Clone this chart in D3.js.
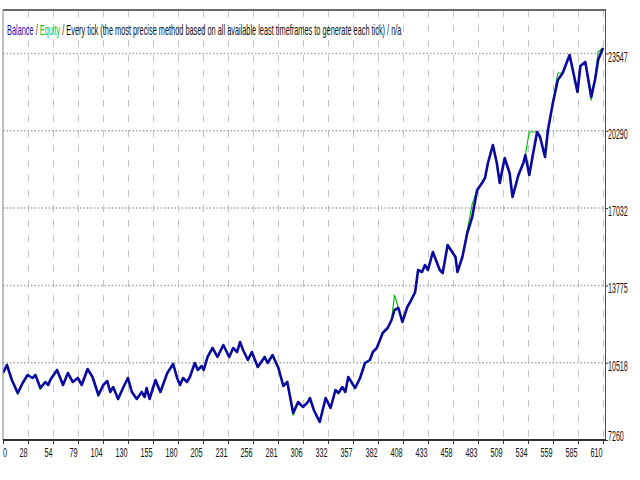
<!DOCTYPE html>
<html>
<head>
<meta charset="utf-8">
<script src="https://cdn.jsdelivr.net/npm/d3@7"></script>
<style>
	body { margin: 0; background: #fff; }
	svg { display: block; }
</style>
</head>
<body>
<svg id="chart" width="640" height="480"></svg>
<script>
// trade number for each sampled point
const trade_idx = [0, 4, 9, 15, 20, 25, 30, 33, 38, 43, 46, 48, 55, 61, 66, 71, 76, 80, 86, 91,
	97, 102, 106, 109, 112, 117, 122, 127, 131, 136, 141, 144, 146, 149, 155, 160, 167, 173, 177, 180,
	183, 187, 190, 195, 198, 202, 204, 208, 213, 218, 224, 230, 234, 238, 241, 244, 249, 253, 259, 266,
	269, 274, 280, 285, 289, 295, 300, 305, 310, 312, 316, 322, 328, 333, 338, 341, 345, 348, 351, 358,
	363, 368, 373, 376, 380, 386, 391, 395, 398, 402, 406, 411, 414, 419, 422, 426, 429, 432, 437, 444,
	447, 452, 460, 462, 467, 472, 477, 482, 487, 490, 493, 498, 502, 505, 510, 515, 518, 524, 529, 531,
	535, 539, 543, 546, 551, 554, 559, 564, 569, 576, 584, 587, 592, 598, 602, 605, 610]

const balance = [10083, 10421, 9788, 9241, 9662, 9999, 9873, 9999, 9451, 9704, 9578, 9788, 10210, 9578, 10083, 9704, 9873, 9578, 10252, 9915,
	9156, 9578, 9746, 9283, 9493, 8988, 9451, 9873, 9283, 8988, 9283, 9072, 9451, 8988, 9788, 9283, 10083, 10463, 9873, 9578,
	9873, 9704, 9915, 10505, 10210, 10378, 10210, 10758, 11137, 10758, 11263, 10758, 11137, 10968, 11390, 11053, 10631, 10968, 10336, 10758,
	10505, 10842, 10294, 9536, 9704, 8398, 8861, 8651, 8861, 9030, 8524, 8019, 9030, 8608, 9367, 9241, 9493, 9283, 9915, 9451,
	9873, 10505, 10631, 10968, 11137, 11769, 11980, 12317, 12738, 12822, 12233, 12865, 13075, 13497, 14424, 14340, 14635, 14424, 15182, 14424,
	14297, 15477, 14972, 14340, 14972, 15983, 16657, 17795, 18090, 18301, 18933, 19691, 18933, 18090, 19143, 18511, 17500, 18427, 18933, 19270,
	18427, 19354, 20239, 20028, 19186, 20323, 21461, 22430, 22725, 23484, 21925, 23020, 23189, 21714, 22473, 23273, 23779]

const equity = [10083, 10421, 9788, 9180, 9662, 9999, 9873, 9999, 9400, 9704, 9578, 9788, 10210, 9578, 10083, 9704, 9873, 9578, 10252, 9915,
	9100, 9578, 9746, 9283, 9493, 8988, 9451, 9873, 9283, 8988, 9283, 9072, 9451, 8988, 9788, 9283, 10083, 10463, 9873, 9578,
	9873, 9704, 9915, 10505, 10210, 10378, 10210, 10758, 11137, 10758, 11263, 10758, 11137, 10968, 11390, 11053, 10631, 10968, 10336, 10758,
	10505, 10842, 10294, 9536, 9704, 8300, 8861, 8651, 8861, 9030, 8524, 8019, 9030, 8608, 9367, 9241, 9493, 9283, 9915, 9451,
	9873, 10505, 10631, 10968, 11137, 11769, 11980, 12317, 13370, 12822, 12233, 12865, 13075, 13497, 14424, 14340, 14635, 14424, 15182, 14424,
	14297, 15477, 14972, 14340, 14972, 16100, 17200, 17795, 18090, 18301, 18933, 19691, 18933, 18090, 19143, 18511, 17500, 18427, 18933, 19270,
	20239, 20239, 20239, 20028, 19186, 20323, 21461, 22725, 22725, 23484, 21925, 23020, 23189, 21586, 22473, 23610, 23779]

const x_ticks = [0, 28, 54, 79, 104, 130, 155, 180, 205, 231, 256, 281, 306, 332, 357, 382, 408, 433, 458, 483, 509, 534, 559, 585, 610]
const y_ticks = [7260, 10518, 13775, 17032, 20290, 23547]

const FONT = '"Liberation Sans", Arial, sans-serif'
const L = 3, R = 605, T = 10, B = 440

const svg = d3.select('#chart')

const x = d3.scaleLinear().domain([0, 612]).range([L, R])
// MT4 spaces its trade labels evenly in pixels, not in value
const x_pos = d3.scalePoint().domain(x_ticks).range([L, 603])
const y = d3.scaleLinear().domain([7260, 25380]).range([B, T])

svg.append('rect').attr('width', 640).attr('height', 480).attr('fill', '#fff')

svg.append('clipPath').attr('id', 'plot')
	.append('rect').attr('x', L).attr('y', T).attr('width', R - L).attr('height', B - T)

// grid
svg.append('g')
	.attr('stroke', '#c4c4c4')
	.attr('stroke-dasharray', '7,8')
	.selectAll('line')
	.data(x_ticks.slice(1))
	.join('line')
	.attr('x1', d => x_pos(d) + 0.5).attr('x2', d => x_pos(d) + 0.5)
	.attr('y1', T).attr('y2', B)

svg.append('g')
	.attr('stroke', '#a8a8a8')
	.attr('stroke-width', 1.5)
	.attr('stroke-dasharray', '1.5,2')
	.selectAll('line')
	.data(y_ticks.slice(1))
	.join('line')
	.attr('x1', L).attr('x2', R)
	.attr('y1', d => y(d)).attr('y2', d => y(d))

// curves
const pts = s => trade_idx.map((t, i) => [t, s[i]])
const line = d3.line().x(d => x(d[0])).y(d => y(d[1]))

const curves = svg.append('g').attr('clip-path', 'url(#plot)').attr('fill', 'none')
	.attr('stroke-linejoin', 'round')

curves.append('path')
	.attr('d', line(pts(equity)))
	.attr('stroke', '#00c000')
	.attr('stroke-width', 1.2)

curves.append('path')
	.attr('d', line(pts(balance)))
	.attr('stroke', '#0a0aa0')
	.attr('stroke-width', 2.6)

// frame
svg.append('line').attr('x1', L).attr('x2', R).attr('y1', T).attr('y2', T)
	.attr('stroke', '#6a6a6a').attr('stroke-width', 2)
svg.append('line').attr('x1', L).attr('x2', L).attr('y1', T).attr('y2', B)
	.attr('stroke', '#808080').attr('stroke-width', 1)
svg.append('line').attr('x1', R + 0.5).attr('x2', R + 0.5).attr('y1', T - 1).attr('y2', B)
	.attr('stroke', '#505050').attr('stroke-width', 1)
svg.append('line').attr('x1', L).attr('x2', R + 1).attr('y1', B).attr('y2', B)
	.attr('stroke', '#303030').attr('stroke-width', 2)

// tick marks
svg.append('g').attr('stroke', '#303030')
	.selectAll('line')
	.data(x_ticks)
	.join('line')
	.attr('x1', d => x_pos(d) + 0.5).attr('x2', d => x_pos(d) + 0.5)
	.attr('y1', B).attr('y2', B + 4)

svg.append('g').attr('stroke', '#303030')
	.selectAll('line')
	.data(y_ticks)
	.join('line')
	.attr('x1', R).attr('x2', R + 3)
	.attr('y1', d => y(d) + 0.5).attr('y2', d => y(d) + 0.5)

// labels (screenshot is squeezed sideways, so are the glyphs)
svg.append('g')
	.attr('font-family', FONT)
	.attr('font-size', 13)
	.attr('fill', '#111')
	.selectAll('text')
	.data(x_ticks)
	.join('text')
	.attr('text-anchor', (d, i) => i === 0 ? 'start' : 'end')
	.attr('transform', (d, i) => `translate(${i === 0 ? x_pos(d) : x_pos(d) - 0.5}, 457) scale(0.56, 1)`)
	.text(d => d)

svg.append('g')
	.attr('font-family', FONT)
	.attr('font-size', 14.5)
	.attr('fill', '#111')
	.selectAll('text')
	.data(y_ticks)
	.join('text')
	.attr('dominant-baseline', 'central')
	.attr('transform', d => `translate(608, ${Math.min(y(d) + 3, 436)}) scale(0.49, 1)`)
	.text(d => d)

// title
const title = svg.append('text')
	.attr('font-family', FONT)
	.attr('font-size', 14)
title.append('tspan').attr('fill', '#1010c0').text('Balance')
title.append('tspan').attr('fill', '#202020').text(' / ')
title.append('tspan').attr('fill', '#10c010').text('Equity')
title.append('tspan').attr('fill', '#101010').text(' / Every tick (the most precise method based on all available least timeframes to generate each tick) / n/a')
const title_w = title.node().getComputedTextLength()
title.attr('transform', `translate(7, 35) scale(${395 / title_w}, 1)`)
</script>
</body>
</html>
